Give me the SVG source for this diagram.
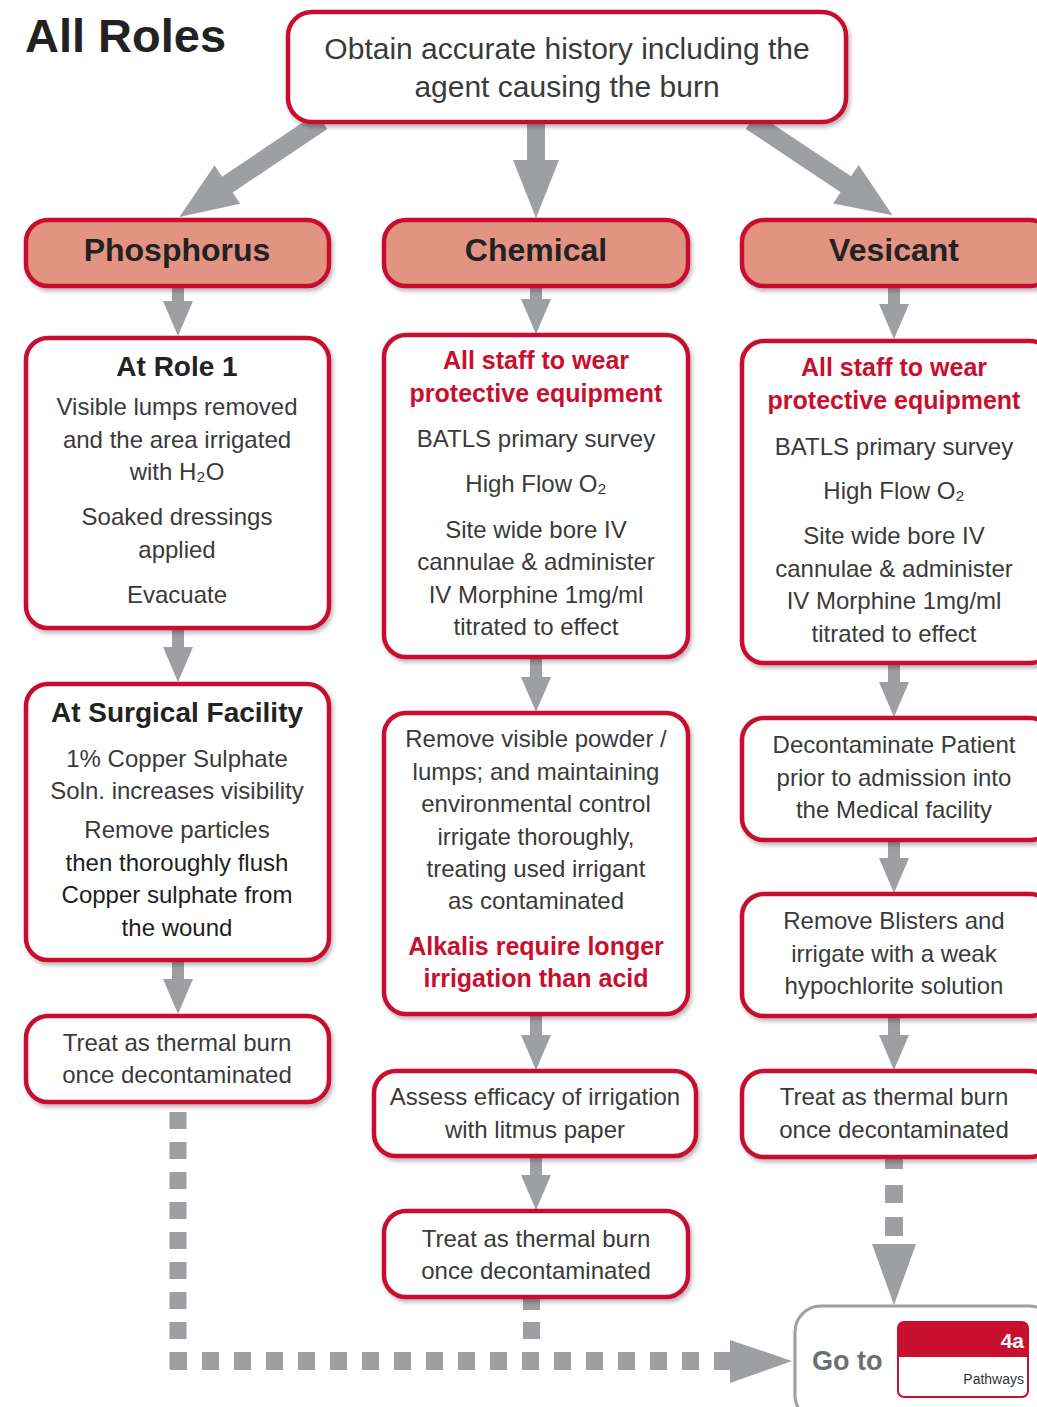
<svg xmlns="http://www.w3.org/2000/svg" width="1037" height="1407" viewBox="0 0 1037 1407">
  <defs>
    <filter id="shadow" x="-10%" y="-10%" width="125%" height="130%">
      <feDropShadow dx="2" dy="3" stdDeviation="2.2" flood-color="#000" flood-opacity="0.28"/>
    </filter>
    <style>
      text { font-family: "Liberation Sans", "DejaVu Sans", Arial, sans-serif; fill: #3a3a3a; text-anchor: middle; }
      .box { fill: #fff; stroke: #c8102e; stroke-width: 4.5; filter: url(#shadow); }
      .cat { fill: #e29382; stroke: #c8102e; stroke-width: 4.5; filter: url(#shadow); }
      .goto { fill: #fff; stroke: #9d9fa2; stroke-width: 3; filter: url(#shadow); }
      .arrow { fill: #9d9fa2; }
      .body { font-size: 24px; }
      .dark { fill: #1e1e1e; }
      .title { font-size: 28px; font-weight: bold; fill: #222; }
      .cattxt { font-size: 32px; font-weight: bold; fill: #222; }
      .red { font-size: 25px; font-weight: bold; fill: #c8102e; }
    </style>
  </defs>

  <rect width="1037" height="1407" fill="#fff"/>

  <text x="25" y="52" style="font-size:47px;font-weight:bold;fill:#222;text-anchor:start">All Roles</text>

  <!-- connectors -->
  <g id="connectors" class="arrow">
    <!-- from history box to the three categories -->
    <polygon points="527,118 545,118 545,160 559,160 536,218 513,160 527,160"/>
    <polygon transform="translate(322,121) rotate(146.1)" points="0,-9.5 114,-9.5 114,-23 172,0 114,23 114,9.5 0,9.5"/>
    <polygon transform="translate(751,121) rotate(33.7)" points="0,-9.5 114,-9.5 114,-23 170,0 114,23 114,9.5 0,9.5"/>

    <!-- phosphorus column -->
    <polygon points="172,286 184,286 184,301 193,301 178,336 163,301 172,301"/>
    <polygon points="172,628 184,628 184,647 193,647 178,682 163,647 172,647"/>
    <polygon points="172,960 184,960 184,979 193,979 178,1014 163,979 172,979"/>

    <!-- chemical column -->
    <polygon points="530,286 542,286 542,299 551,299 536,334 521,299 530,299"/>
    <polygon points="530,657 542,657 542,677 551,677 536,712 521,677 530,677"/>
    <polygon points="530,1014 542,1014 542,1035 551,1035 536,1070 521,1035 530,1035"/>
    <polygon points="530,1156 542,1156 542,1175 551,1175 536,1210 521,1175 530,1175"/>

    <!-- vesicant column -->
    <polygon points="888,286 900,286 900,304 909,304 894,339 879,304 888,304"/>
    <polygon points="888,663 900,663 900,682 909,682 894,717 879,682 888,682"/>
    <polygon points="888,840 900,840 900,858 909,858 894,893 879,858 888,858"/>
    <polygon points="888,1016 900,1016 900,1035 909,1035 894,1070 879,1035 888,1035"/>

    <!-- dotted routes to pathway 4a -->
    <line x1="178" y1="1112" x2="178" y2="1369" stroke="#9d9fa2" stroke-width="17" stroke-dasharray="17 13"/>
    <line x1="170" y1="1361" x2="731" y2="1361" stroke="#9d9fa2" stroke-width="18" stroke-dasharray="17 15"/>
    <rect x="523" y="1295" width="17" height="15"/>
    <rect x="523" y="1322" width="17" height="17"/>
    <polygon points="715,1352 730,1352 730,1340 792,1361 730,1383 730,1370 715,1370"/>

    <rect x="885" y="1157" width="18" height="12"/>
    <rect x="885" y="1185" width="18" height="18"/>
    <rect x="885" y="1217" width="18" height="19"/>
    <polygon points="872,1244 916,1244 894,1305"/>
  </g>

  <!-- history -->
  <g id="history">
    <rect class="box" x="288" y="12" width="558" height="110" rx="24"/>
    <text x="567" y="59" style="font-size:30px">Obtain accurate history including the</text>
    <text x="567" y="97" style="font-size:30px">agent causing the burn</text>
  </g>

  <!-- categories -->
  <g id="phosphorus">
    <rect class="cat" x="26" y="220" width="303" height="66" rx="22"/>
    <text class="cattxt" x="177" y="261">Phosphorus</text>
  </g>
  <g id="chemical">
    <rect class="cat" x="384" y="220" width="304" height="66" rx="22"/>
    <text class="cattxt" x="536" y="261">Chemical</text>
  </g>
  <g id="vesicant">
    <rect class="cat" x="742" y="220" width="310" height="66" rx="22"/>
    <text class="cattxt" x="894" y="261">Vesicant</text>
  </g>

  <!-- phosphorus column -->
  <g id="p-role1">
    <rect class="box" x="26" y="338" width="303" height="290" rx="22"/>
    <text class="title" x="177" y="376">At Role 1</text>
    <text class="body" x="177" y="415">Visible lumps removed</text>
    <text class="body" x="177" y="448">and the area irrigated</text>
    <text class="body" x="177" y="480">with H₂O</text>
    <text class="body" x="177" y="525">Soaked dressings</text>
    <text class="body" x="177" y="558">applied</text>
    <text class="body" x="177" y="603">Evacuate</text>
  </g>
  <g id="p-surgical">
    <rect class="box" x="26" y="684" width="303" height="276" rx="22"/>
    <text class="title" x="177" y="722">At Surgical Facility</text>
    <text class="body" x="177" y="767">1% Copper Sulphate</text>
    <text class="body" x="177" y="799">Soln. increases visibility</text>
    <text class="body" x="177" y="838">Remove particles</text>
    <text class="body dark" x="177" y="871">then thoroughly flush</text>
    <text class="body dark" x="177" y="903">Copper sulphate from</text>
    <text class="body dark" x="177" y="936">the wound</text>
  </g>
  <g id="p-thermal">
    <rect class="box" x="26" y="1016" width="303" height="86" rx="22"/>
    <text class="body" x="177" y="1051">Treat as thermal burn</text>
    <text class="body" x="177" y="1083">once decontaminated</text>
  </g>

  <!-- chemical column -->
  <g id="c-protect">
    <rect class="box" x="384" y="335" width="304" height="322" rx="22"/>
    <text class="red" x="536" y="369">All staff to wear</text>
    <text class="red" x="536" y="402">protective equipment</text>
    <text class="body" x="536" y="447">BATLS primary survey</text>
    <text class="body" x="536" y="492">High Flow O₂</text>
    <text class="body" x="536" y="538">Site wide bore IV</text>
    <text class="body" x="536" y="570">cannulae &amp; administer</text>
    <text class="body" x="536" y="603">IV Morphine 1mg/ml</text>
    <text class="body" x="536" y="635">titrated to effect</text>
  </g>
  <g id="c-irrigate">
    <rect class="box" x="384" y="713" width="304" height="301" rx="22"/>
    <text class="body" x="536" y="747">Remove visible powder /</text>
    <text class="body" x="536" y="780">lumps; and maintaining</text>
    <text class="body" x="536" y="812">environmental control</text>
    <text class="body" x="536" y="845">irrigate thoroughly,</text>
    <text class="body" x="536" y="877">treating used irrigant</text>
    <text class="body" x="536" y="909">as contaminated</text>
    <text class="red" x="536" y="955">Alkalis require longer</text>
    <text class="red" x="536" y="987">irrigation than acid</text>
  </g>
  <g id="c-litmus">
    <rect class="box" x="374" y="1071" width="322" height="85" rx="22"/>
    <text class="body" x="535" y="1105">Assess efficacy of irrigation</text>
    <text class="body" x="535" y="1138">with litmus paper</text>
  </g>
  <g id="c-thermal">
    <rect class="box" x="384" y="1211" width="304" height="86" rx="22"/>
    <text class="body" x="536" y="1247">Treat as thermal burn</text>
    <text class="body" x="536" y="1279">once decontaminated</text>
  </g>

  <!-- vesicant column -->
  <g id="v-protect">
    <rect class="box" x="742" y="341" width="310" height="322" rx="22"/>
    <text class="red" x="894" y="376">All staff to wear</text>
    <text class="red" x="894" y="409">protective equipment</text>
    <text class="body" x="894" y="455">BATLS primary survey</text>
    <text class="body" x="894" y="499">High Flow O₂</text>
    <text class="body" x="894" y="544">Site wide bore IV</text>
    <text class="body" x="894" y="577">cannulae &amp; administer</text>
    <text class="body" x="894" y="609">IV Morphine 1mg/ml</text>
    <text class="body" x="894" y="642">titrated to effect</text>
  </g>
  <g id="v-decon">
    <rect class="box" x="742" y="718" width="310" height="122" rx="22"/>
    <text class="body" x="894" y="753">Decontaminate Patient</text>
    <text class="body" x="894" y="786">prior to admission into</text>
    <text class="body" x="894" y="818">the Medical facility</text>
  </g>
  <g id="v-blisters">
    <rect class="box" x="742" y="894" width="310" height="122" rx="22"/>
    <text class="body" x="894" y="929">Remove Blisters and</text>
    <text class="body" x="894" y="962">irrigate with a weak</text>
    <text class="body" x="894" y="994">hypochlorite solution</text>
  </g>
  <g id="v-thermal">
    <rect class="box" x="742" y="1071" width="310" height="86" rx="22"/>
    <text class="body" x="894" y="1105">Treat as thermal burn</text>
    <text class="body" x="894" y="1138">once decontaminated</text>
  </g>

  <!-- pathway link -->
  <g id="goto">
    <rect class="goto" x="795" y="1306" width="260" height="115" rx="26"/>
    <text x="812" y="1370" style="font-size:27px;font-weight:bold;fill:#6d6e71;text-anchor:start">Go to</text>
    <rect x="898" y="1322" width="130" height="75" rx="6" fill="#fff" stroke="#c8102e" stroke-width="2"/>
    <path d="M898,1357 V1328 a6,6 0 0 1 6,-6 H1022 a6,6 0 0 1 6,6 V1357 Z" fill="#c8102e"/>
    <text x="1024" y="1348" style="font-size:21px;font-weight:bold;fill:#fff;text-anchor:end">4a</text>
    <text x="1024" y="1384" style="font-size:14px;fill:#333;text-anchor:end">Pathways</text>
  </g>
</svg>
